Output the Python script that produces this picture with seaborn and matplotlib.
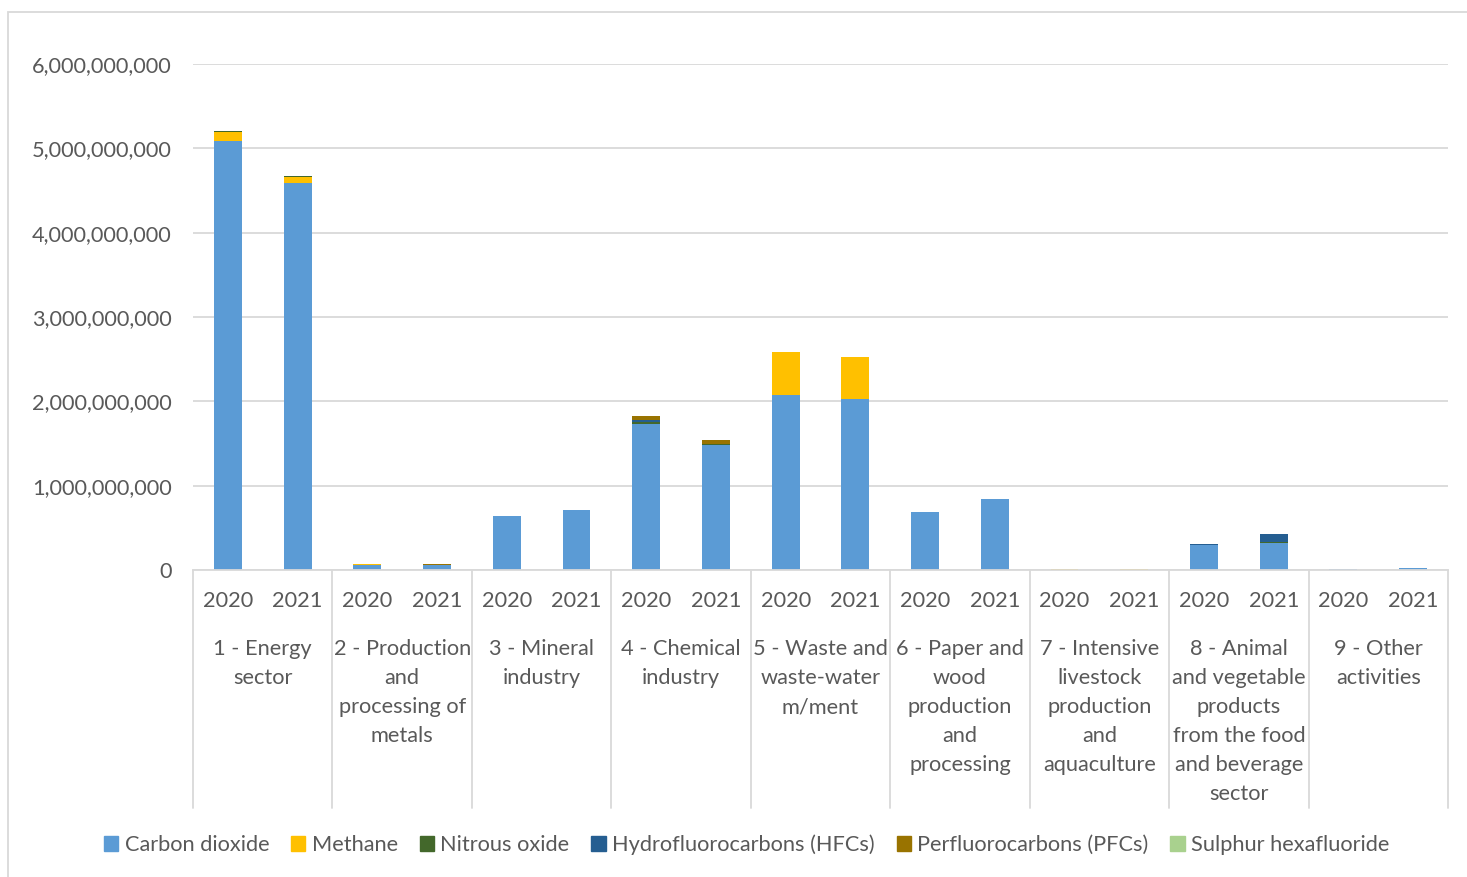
import numpy as np
import pandas as pd
import matplotlib.pyplot as plt
import seaborn as sns
from matplotlib.patches import Rectangle

sns.set_theme(style="white")
plt.rcParams['font.family'] = ['Lato', 'DejaVu Sans']

# categories (one per pair of bars)
sectors = [
    "1 - Energy\nsector",
    "2 - Production\nand\nprocessing of\nmetals",
    "3 - Mineral\nindustry",
    "4 - Chemical\nindustry",
    "5 - Waste and\nwaste-water\nm/ment",
    "6 - Paper and\nwood\nproduction\nand\nprocessing",
    "7 - Intensive\nlivestock\nproduction\nand\naquaculture",
    "8 - Animal\nand vegetable\nproducts\nfrom the food\nand beverage\nsector",
    "9 - Other\nactivities",
]
years = ["2020", "2021"]

# values per bar (sector x year), in order: s1-2020, s1-2021, s2-2020, ...
carbon_dioxide = [5.09e9, 4.59e9, 0.060e9, 0.055e9, 0.64e9, 0.71e9, 1.73e9, 1.48e9,
                  2.07e9, 2.03e9, 0.69e9, 0.84e9, 0.0, 0.0, 0.296e9, 0.324e9, 0.006e9, 0.02e9]
methane = [0.10e9, 0.07e9, 0.008e9, 0.008e9, 0.002e9, 0.002e9, 0.0, 0.0,
           0.52e9, 0.50e9, 0.002e9, 0.002e9, 0.008e9, 0.008e9, 0.002e9, 0.002e9, 0.0, 0.0]
nitrous_oxide = [0.012e9, 0.012e9, 0.0, 0.0, 0.0, 0.0, 0.02e9, 0.01e9,
                 0.0, 0.0, 0.0, 0.0, 0.001e9, 0.001e9, 0.0, 0.005e9, 0.0, 0.0]
hfcs = [0.0, 0.0, 0.0, 0.0, 0.0, 0.0, 0.03e9, 0.005e9,
        0.0, 0.0, 0.0, 0.0, 0.0, 0.0, 0.012e9, 0.10e9, 0.0, 0.0]
pfcs = [0.0, 0.0, 0.007e9, 0.007e9, 0.0, 0.0, 0.05e9, 0.047e9,
        0.0, 0.0, 0.0, 0.0, 0.0, 0.0, 0.0, 0.0, 0.0, 0.0]
sulphur_hexafluoride = [0.0, 0.0, 0.0, 0.0, 0.0, 0.0, 0.002e9, 0.002e9,
                        0.0, 0.0, 0.0, 0.0, 0.0, 0.0, 0.0, 0.0, 0.0, 0.0]

gases = ["Carbon dioxide", "Methane", "Nitrous oxide",
         "Hydrofluorocarbons (HFCs)", "Perfluorocarbons (PFCs)", "Sulphur hexafluoride"]
colors = ["#5B9BD5", "#FFC000", "#43682B", "#255E91", "#997300", "#A9D18E"]
series = [carbon_dioxide, methane, nitrous_oxide, hfcs, pfcs, sulphur_hexafluoride]

bar_ids = [str(i) for i in range(len(carbon_dioxide))]
text_c = "#595959"
grid_c = "#D9D9D9"
fs = 15.7

fig = plt.figure(figsize=(14.67, 8.77), dpi=100)
ax = fig.add_axes([193 / 1467, 1 - 570 / 877, (1448 - 193) / 1467, (570 - 64) / 877])

# stacked bars, series order from bottom
bottom = np.zeros(len(bar_ids))
for gas, vals, c in zip(gases, series, colors):
    vals = np.array(vals)
    sns.barplot(x=bar_ids, y=vals, bottom=bottom, color=c, width=0.4,
                order=bar_ids, ax=ax, saturation=1, edgecolor="none", linewidth=0)
    bottom += vals

ax.set_xlim(-0.5, len(bar_ids) - 0.5)
ax.set_ylim(0, 6e9)
ticks = np.arange(0, 6.01e9, 1e9)
ax.set_yticks(ticks)
ax.set_yticklabels([f"{int(v):,}" for v in ticks], color=text_c, fontsize=fs)
ax.tick_params(axis="y", length=0, pad=15.5)
ax.yaxis.grid(True, color=grid_c, linewidth=1.3)
ax.set_axisbelow(True)
ax.set_xticks([])
ax.set_xlabel("")
ax.set_ylabel("")
for s in ["top", "left", "right"]:
    ax.spines[s].set_visible(False)
ax.spines["bottom"].set_color(grid_c)
ax.spines["bottom"].set_linewidth(1.3)

# multi-level category axis
trans = ax.get_xaxis_transform()
for i in range(len(sectors) + 1):
    ax.plot([2 * i - 0.5, 2 * i - 0.5], [0, -0.47], transform=trans, color=grid_c,
            linewidth=1.3, clip_on=False)
for i, bid in enumerate(bar_ids):
    ax.text(i, -0.0613, years[i % 2], transform=trans, ha="center", va="center",
            fontsize=fs, color=text_c)
for j, name in enumerate(sectors):
    ax.text(2 * j + 0.5, -0.137, name, transform=trans, ha="center", va="top",
            fontsize=fs, color=text_c, linespacing=1.56)

# legend
handles = [Rectangle((0, 0), 1, 1, color=c) for c in colors]
fig.legend(handles, gases, loc="center", bbox_to_anchor=(0.509, 1 - 845 / 877), ncol=6,
           frameon=False, fontsize=fs, labelcolor=text_c, handlelength=0.65, handleheight=0.65,
           handletextpad=0.3, columnspacing=1.0)

# chart border
fig.patches.append(Rectangle((8 / 1467, -0.1), 1.2, 1 - 12 / 877 + 0.1, transform=fig.transFigure,
                             fill=False, edgecolor=grid_c, linewidth=1.3))

fig.savefig("out.png", dpi=100, facecolor="white")
